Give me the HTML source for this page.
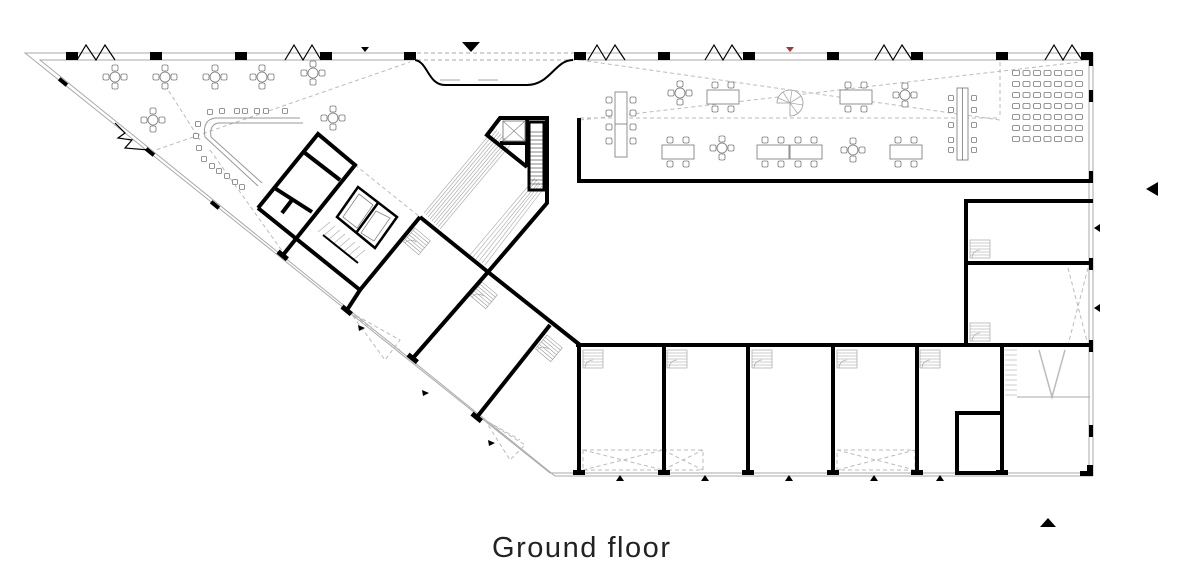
<!DOCTYPE html>
<html><head><meta charset="utf-8"><style>
html,body{margin:0;padding:0;background:#fff;width:1200px;height:580px;overflow:hidden}
svg{display:block}
</style></head><body>
<svg width="1200" height="580" viewBox="0 0 1200 580" xmlns="http://www.w3.org/2000/svg" xmlns:xlink="http://www.w3.org/1999/xlink">
<defs>
  <g id="rt" fill="#fff" stroke="#777" stroke-width="0.8">
    <circle cx="0" cy="0" r="5"/>
    <rect x="-3" y="-12" width="6" height="6" rx="1.5"/><rect x="-3" y="6" width="6" height="6" rx="1.5"/>
    <rect x="-12" y="-3" width="6" height="6" rx="1.5"/><rect x="6" y="-3" width="6" height="6" rx="1.5"/>
  </g>
  <g id="ch" fill="#fff" stroke="#777" stroke-width="0.8"><rect x="-3" y="-3" width="6" height="6" rx="1.5"/></g>
  <g id="sc" fill="#fff" stroke="#777" stroke-width="0.8"><rect x="-3.5" y="-2.5" width="7" height="5" rx="1.2"/></g>
  <g id="t2" fill="#fff" stroke="#777" stroke-width="0.8">
    <rect x="0" y="0" width="32" height="14"/>
    <rect x="5" y="-8" width="6" height="6" rx="1.5"/><rect x="21" y="-8" width="6" height="6" rx="1.5"/>
    <rect x="5" y="16" width="6" height="6" rx="1.5"/><rect x="21" y="16" width="6" height="6" rx="1.5"/>
  </g>
  <g id="row7"><use xlink:href="#sc" x="0"/><use xlink:href="#sc" x="10.5"/><use xlink:href="#sc" x="21"/><use xlink:href="#sc" x="31.5"/><use xlink:href="#sc" x="42"/><use xlink:href="#sc" x="52.5"/><use xlink:href="#sc" x="63"/></g>
  <g id="st" fill="none" stroke="#999" stroke-width="0.6">
    <rect x="0" y="0" width="20" height="18"/>
    <line x1="0" y1="3" x2="20" y2="3"/><line x1="0" y1="6" x2="20" y2="6"/><line x1="0" y1="9" x2="20" y2="9"/><line x1="0" y1="12" x2="20" y2="12"/><line x1="0" y1="15" x2="20" y2="15"/>
    <path d="M2,18 A8,8 0 0 1 10,10"/>
  </g>
  <g id="sq" fill="#fff" stroke="#777" stroke-width="0.8"><rect x="-2.5" y="-2.5" width="5" height="5" rx="1"/></g>
</defs>
<g fill="none" stroke="#aaa" stroke-width="1">
  <polyline points="410,53 25,53 550,473 1093,473"/>
  <polyline points="410,60 40,60 555,476 1093,476"/>
  <line x1="580" y1="53" x2="1093" y2="53"/><line x1="580" y1="60" x2="1090" y2="60"/>
  <line x1="1093" y1="53" x2="1093" y2="476"/><line x1="1089" y1="60" x2="1089" y2="473"/>
  <g stroke-dasharray="4,3"><line x1="410" y1="53" x2="580" y2="53"/><line x1="410" y1="60" x2="580" y2="60"/></g>
</g>
<path d="M415,60 C428,62 428,85 445,85 L527,85 C550,85 555,60 573,60" fill="none" stroke="#000" stroke-width="2"/>
<g stroke="#888" stroke-width="0.8"><line x1="440" y1="80" x2="460" y2="80"/><line x1="478" y1="80" x2="498" y2="80"/></g>
<g fill="none" stroke="#bbb" stroke-width="1" stroke-dasharray="4,3">
  <line x1="150" y1="152" x2="410" y2="62"/>
  <line x1="165" y1="85" x2="200" y2="140"/>
  <line x1="210" y1="150" x2="285" y2="255"/>
  <line x1="355" y1="165" x2="420" y2="217"/>
  <line x1="580" y1="60" x2="1000" y2="120"/>
  <line x1="580" y1="120" x2="1080" y2="62"/>
  <line x1="580" y1="118" x2="1000" y2="118"/>
  <polyline points="1000,62 1000,118"/>
  <polyline points="350,312 400,340 385,360 350,312 400,350"/>
  <polyline points="485,420 525,445 510,460 485,420 520,440"/>
  <rect x="583" y="450" width="80" height="20"/><line x1="583" y1="450" x2="663" y2="470"/><line x1="583" y1="470" x2="663" y2="450"/>
  <rect x="663" y="450" width="40" height="20"/><line x1="663" y1="450" x2="703" y2="470"/><line x1="663" y1="470" x2="703" y2="450"/>
  <rect x="837" y="450" width="78" height="20"/><line x1="837" y1="450" x2="915" y2="470"/><line x1="837" y1="470" x2="915" y2="450"/>
  <polyline points="1068,268 1088,345"/><polyline points="1088,268 1068,345"/>
</g>
<g fill="none" stroke="#bbb" stroke-width="1.5"><polyline points="1039,350 1052,397 1065,350"/></g>
<line x1="1017" y1="397" x2="1090" y2="397" stroke="#aaa"/>
<path d="M300,118 L215,118 Q202,120 205,137 L258,186" fill="none" stroke="#999" stroke-width="1"/>
<path d="M303,123 L218,123 Q209,125 211,137 L262,183" fill="none" stroke="#999" stroke-width="1"/>
<!-- stairs lines -->
<g stroke="#aaa" stroke-width="0.6">
  <line x1="424" y1="213" x2="495" y2="128"/><line x1="426" y1="215" x2="497" y2="130"/><line x1="428" y1="217" x2="499" y2="132"/><line x1="430" y1="219" x2="501" y2="134"/><line x1="432" y1="221" x2="503" y2="136"/><line x1="434" y1="223" x2="505" y2="138"/><line x1="436" y1="225" x2="507" y2="140"/><line x1="438" y1="227" x2="509" y2="142"/><line x1="440" y1="229" x2="511" y2="144"/>
  <line x1="470" y1="255" x2="535" y2="178"/><line x1="473" y1="257" x2="537" y2="180"/><line x1="476" y1="259" x2="539" y2="182"/><line x1="479" y1="261" x2="540" y2="184"/><line x1="482" y1="263" x2="542" y2="186"/><line x1="485" y1="265" x2="544" y2="188"/>
  <line x1="318" y1="232" x2="330" y2="222"/><line x1="323" y1="236" x2="335" y2="226"/><line x1="328" y1="240" x2="340" y2="230"/><line x1="333" y1="244" x2="345" y2="234"/><line x1="338" y1="248" x2="350" y2="238"/><line x1="343" y1="252" x2="355" y2="242"/><line x1="348" y1="256" x2="360" y2="246"/><line x1="353" y1="260" x2="365" y2="250"/>
  <line x1="1005" y1="350" x2="1017" y2="350"/><line x1="1005" y1="355" x2="1017" y2="355"/><line x1="1005" y1="360" x2="1017" y2="360"/><line x1="1005" y1="365" x2="1017" y2="365"/><line x1="1005" y1="370" x2="1017" y2="370"/><line x1="1005" y1="375" x2="1017" y2="375"/><line x1="1005" y1="380" x2="1017" y2="380"/><line x1="1005" y1="385" x2="1017" y2="385"/><line x1="1005" y1="390" x2="1017" y2="390"/><line x1="1005" y1="395" x2="1017" y2="395"/>
</g>
<g stroke="#333" stroke-width="0.6">
  <line x1="530" y1="132" x2="543" y2="132"/><line x1="530" y1="136" x2="543" y2="136"/><line x1="530" y1="140" x2="543" y2="140"/><line x1="530" y1="144" x2="543" y2="144"/><line x1="530" y1="148" x2="543" y2="148"/><line x1="530" y1="152" x2="543" y2="152"/><line x1="530" y1="156" x2="543" y2="156"/><line x1="530" y1="160" x2="543" y2="160"/><line x1="530" y1="164" x2="543" y2="164"/><line x1="530" y1="168" x2="543" y2="168"/><line x1="530" y1="172" x2="543" y2="172"/><line x1="530" y1="176" x2="543" y2="176"/><line x1="530" y1="180" x2="543" y2="180"/><line x1="530" y1="184" x2="543" y2="184"/>
</g>
<use xlink:href="#st" x="583" y="350"/><use xlink:href="#st" x="667" y="350"/><use xlink:href="#st" x="752" y="350"/><use xlink:href="#st" x="837" y="350"/><use xlink:href="#st" x="920" y="350"/>
<use xlink:href="#st" x="970" y="240"/><use xlink:href="#st" x="970" y="323"/>
<use xlink:href="#st" transform="translate(415,228) rotate(40)"/><use xlink:href="#st" transform="translate(482,282) rotate(40)"/><use xlink:href="#st" transform="translate(547,335) rotate(40)"/>
<!-- bold walls -->
<g fill="none" stroke="#000" stroke-width="4">
  <polyline points="579,118 579,181 1093,181"/>
  <polyline points="1093,201 966,201 966,346"/>
  <line x1="966" y1="263" x2="1093" y2="263"/>
  <polyline points="576,345 1093,345"/>
  <line x1="579" y1="345" x2="579" y2="473"/><line x1="664" y1="345" x2="664" y2="473"/>
  <line x1="748" y1="345" x2="748" y2="473"/><line x1="833" y1="345" x2="833" y2="473"/>
  <line x1="917" y1="345" x2="917" y2="473"/><line x1="1002" y1="345" x2="1002" y2="473"/>
  <polyline points="1002,413 957,413 957,473 1002,473"/>
  <polyline points="258,208 318,134 355,165 283,255"/>
  <polyline points="258,208 360,290 420,217"/>
  <line x1="305" y1="153" x2="340" y2="180"/>
  <line x1="273" y1="187" x2="312" y2="212"/>
  <line x1="292" y1="200" x2="282" y2="213"/>
  <line x1="360" y1="290" x2="347" y2="310"/>
  <polyline points="420,217 488,272 580,345"/>
  <line x1="488" y1="272" x2="413" y2="358"/>
  <line x1="550" y1="325" x2="477" y2="417"/>
  <polyline points="488,272 547,203 547,118 500,118 487,135 527,167"/>
  <line x1="527" y1="120" x2="527" y2="167"/>
  <line x1="500" y1="143" x2="527" y2="143"/>
  <rect x="529" y="122" width="15" height="68" stroke-width="3"/>
</g>
<g fill="none" stroke="#000" stroke-width="2.5">
  <polygon points="337,217 358,187 397,217 375,248"/>
  <line x1="378" y1="203" x2="356" y2="233"/>
  <line x1="323" y1="235" x2="358" y2="263" stroke-width="2"/>
</g>
<g fill="none" stroke="#888" stroke-width="0.8"><polygon points="343,217 359,194 373,205 357,228"/><polygon points="361,233 376,211 390,218 374,241"/></g>
<rect x="503" y="121" width="22" height="20" fill="none" stroke="#888"/>
<g stroke="#888" stroke-width="0.7"><line x1="503" y1="121" x2="525" y2="141"/><line x1="525" y1="121" x2="503" y2="141"/></g>
<!-- columns -->
<g fill="#000">
  <rect x="66" y="52" width="12" height="8"/><rect x="150" y="52" width="12" height="8"/><rect x="235" y="52" width="12" height="8"/><rect x="320" y="52" width="12" height="8"/><rect x="404" y="52" width="12" height="8"/>
  <rect x="574" y="52" width="12" height="8"/><rect x="658" y="52" width="12" height="8"/><rect x="743" y="52" width="12" height="8"/><rect x="827" y="52" width="12" height="8"/><rect x="911" y="52" width="12" height="8"/><rect x="996" y="52" width="12" height="8"/><rect x="1081" y="52" width="12" height="8"/>
  <rect x="58" y="80" width="10" height="4" transform="rotate(39 63 82)"/><rect x="145" y="150" width="10" height="4" transform="rotate(39 150 152)"/><rect x="210" y="203" width="10" height="4" transform="rotate(39 215 205)"/>
  <rect x="277" y="253" width="12" height="5" transform="rotate(39 283 255)"/><rect x="341" y="308" width="12" height="5" transform="rotate(39 347 310)"/><rect x="407" y="356" width="12" height="5" transform="rotate(39 413 358)"/><rect x="471" y="415" width="12" height="5" transform="rotate(39 477 417)"/>
  <rect x="573" y="470" width="12" height="5"/><rect x="658" y="470" width="12" height="5"/><rect x="742" y="470" width="12" height="5"/><rect x="827" y="470" width="12" height="5"/><rect x="911" y="470" width="12" height="5"/><rect x="996" y="470" width="12" height="5"/>
  <rect x="1087" y="465" width="6" height="11"/><rect x="1080" y="471" width="13" height="5"/>
  <rect x="1089" y="52" width="4" height="14"/><rect x="1089" y="90" width="4" height="12"/><rect x="1089" y="171" width="4" height="12"/>
  <rect x="1089" y="258" width="4" height="12"/><rect x="1089" y="340" width="4" height="12"/><rect x="1089" y="425" width="4" height="12"/>
</g>
<g fill="none" stroke="#000" stroke-width="1.2">
  <polyline points="77,60 86,45 96,60 105,45 115,60"/>
  <polyline points="285,60 294,45 303,60 312,45 321,60"/>
  <polyline points="588,60 597,45 606,60 615,45 625,60"/>
  <polyline points="705,60 714,45 723,60 732,45 742,60"/>
  <polyline points="875,60 884,45 893,60 902,45 912,60"/>
  <polyline points="1045,60 1054,45 1063,60 1072,45 1082,60"/>
  <polyline points="115,123 125,133 118,138 132,140 125,148 149,150"/>
</g>
<g fill="#000">
  <polygon points="462,42 480,42 471,52"/>
  <polygon points="361,47 369,47 365,52"/>
  <polygon points="786,47 794,47 790,52" fill="#a33"/>
  <polygon points="1146,189 1158,182 1158,196"/>
  <polygon points="1040,527 1056,527 1048,518"/>
  <polygon points="1094,228 1100,224 1100,232"/><polygon points="1094,308 1100,304 1100,312"/>
  <polygon points="616,481 624,481 620,475"/><polygon points="701,481 709,481 705,475"/><polygon points="785,481 793,481 789,475"/><polygon points="870,481 878,481 874,475"/><polygon points="936,481 944,481 940,475"/>
  <polygon points="358,325 365,328 359,331"/><polygon points="422,390 429,393 423,396"/><polygon points="488,440 495,443 489,446"/>
</g>
<!-- furniture -->
<use xlink:href="#rt" x="115" y="77"/><use xlink:href="#rt" x="165" y="77"/><use xlink:href="#rt" x="215" y="77"/><use xlink:href="#rt" x="262" y="77"/><use xlink:href="#rt" x="313" y="73"/><use xlink:href="#rt" x="153" y="120"/><use xlink:href="#rt" x="333" y="118"/>
<use xlink:href="#rt" x="680" y="93"/><use xlink:href="#rt" x="905" y="95"/><use xlink:href="#rt" x="722" y="148"/><use xlink:href="#rt" x="853" y="150"/>
<use xlink:href="#t2" x="707" y="90"/><use xlink:href="#t2" x="840" y="90"/><use xlink:href="#t2" x="662" y="145"/><use xlink:href="#t2" x="757" y="145"/><use xlink:href="#t2" x="790" y="145"/><use xlink:href="#t2" x="890" y="145"/>
<g fill="#fff" stroke="#777" stroke-width="0.8">
  <rect x="615" y="92" width="12" height="65"/><line x1="615" y1="124" x2="627" y2="124"/>
  <rect x="957" y="88" width="11" height="72"/><line x1="962.5" y1="88" x2="962.5" y2="160"/>
  <path d="M777,103 A13,13 0 1 1 790,116 L790,103 Z" stroke="#999"/>
  <line x1="790" y1="103" x2="778" y2="98" stroke="#aaa"/><line x1="790" y1="103" x2="783" y2="92" stroke="#aaa"/><line x1="790" y1="103" x2="792" y2="90" stroke="#aaa"/><line x1="790" y1="103" x2="801" y2="96" stroke="#aaa"/><line x1="790" y1="103" x2="803" y2="105" stroke="#aaa"/><line x1="790" y1="103" x2="798" y2="114" stroke="#aaa"/>
</g>
<use xlink:href="#ch" x="609" y="100"/><use xlink:href="#ch" x="609" y="113"/><use xlink:href="#ch" x="609" y="127"/><use xlink:href="#ch" x="609" y="141"/>
<use xlink:href="#ch" x="633" y="100"/><use xlink:href="#ch" x="633" y="113"/><use xlink:href="#ch" x="633" y="127"/><use xlink:href="#ch" x="633" y="141"/>
<use xlink:href="#sq" x="951" y="98"/><use xlink:href="#sq" x="951" y="110"/><use xlink:href="#sq" x="951" y="125"/><use xlink:href="#sq" x="951" y="140"/><use xlink:href="#sq" x="951" y="150"/>
<use xlink:href="#sq" x="974" y="98"/><use xlink:href="#sq" x="974" y="110"/><use xlink:href="#sq" x="974" y="125"/><use xlink:href="#sq" x="974" y="140"/><use xlink:href="#sq" x="974" y="150"/>
<use xlink:href="#row7" x="1016" y="73"/><use xlink:href="#row7" x="1016" y="84"/><use xlink:href="#row7" x="1016" y="95"/><use xlink:href="#row7" x="1016" y="106"/><use xlink:href="#row7" x="1016" y="117"/><use xlink:href="#row7" x="1016" y="128"/><use xlink:href="#row7" x="1016" y="139"/>
<use xlink:href="#sq" x="210" y="112"/><use xlink:href="#sq" x="222" y="111"/><use xlink:href="#sq" x="237" y="111"/><use xlink:href="#sq" x="245" y="111"/><use xlink:href="#sq" x="257" y="111"/><use xlink:href="#sq" x="266" y="111"/><use xlink:href="#sq" x="285" y="111"/>
<use xlink:href="#sq" x="198" y="124"/><use xlink:href="#sq" x="196" y="136"/><use xlink:href="#sq" x="199" y="148"/><use xlink:href="#sq" x="204" y="159"/><use xlink:href="#sq" x="212" y="166"/><use xlink:href="#sq" x="219" y="171"/><use xlink:href="#sq" x="227" y="176"/><use xlink:href="#sq" x="235" y="182"/><use xlink:href="#sq" x="242" y="187"/>
<text x="492" y="557" font-family="Liberation Sans, sans-serif" font-size="29" font-weight="300" fill="#222" textLength="178">Ground floor</text>
</svg>
</body></html>
